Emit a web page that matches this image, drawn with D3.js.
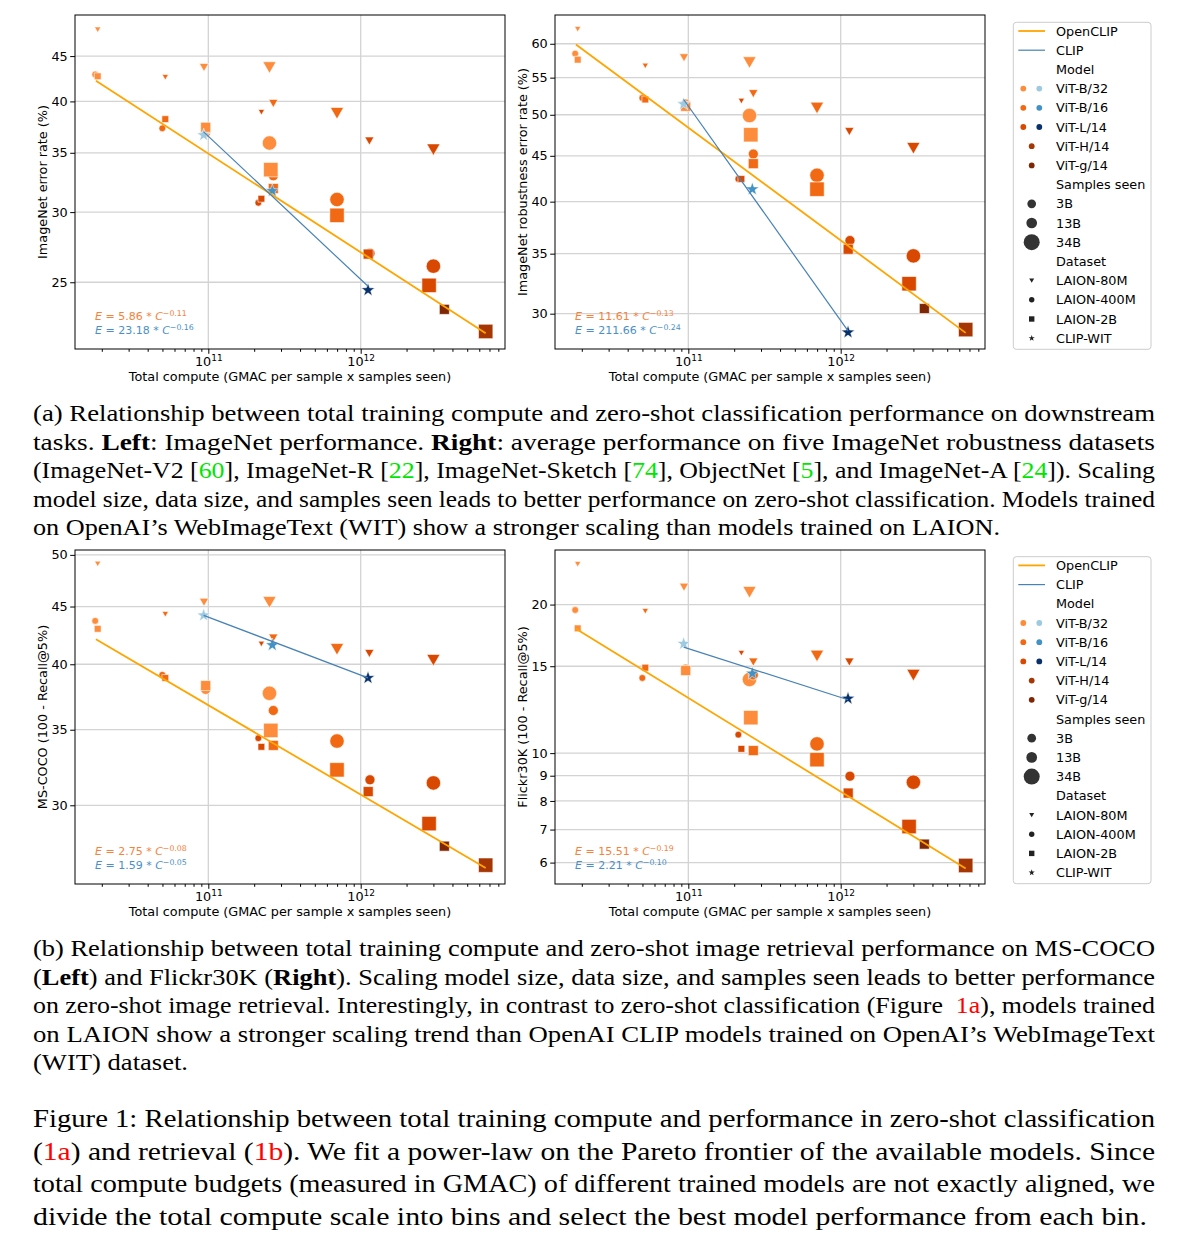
<!DOCTYPE html>
<html>
<head>
<meta charset="utf-8">
<script src="https://cdn.jsdelivr.net/npm/d3@7"></script>
<style>
body{margin:0;background:#fff}
svg text{font-family:"DejaVu Sans",sans-serif}
</style>
</head>
<body>
<svg id="fig" width="1191" height="1249"></svg>
<script>
//OpenCLIP runs (one entry per trained model)
const runModel = ["ViT-B/32","ViT-B/32","ViT-B/32","ViT-B/16","ViT-B/16","ViT-B/16","ViT-B/32","ViT-B/32","ViT-B/32",
  "ViT-L/14","ViT-L/14","ViT-L/14","ViT-B/32","ViT-B/32","ViT-B/32","ViT-B/16","ViT-B/16","ViT-B/16",
  "ViT-B/16","ViT-B/16","ViT-B/16","ViT-L/14","ViT-L/14","ViT-L/14","ViT-L/14","ViT-L/14","ViT-L/14","ViT-g/14","ViT-H/14"]
const runSamples = ["3B","3B","3B","3B","3B","3B","13B","13B","13B","3B","3B","3B","34B","34B","34B","13B","13B","13B",
  "34B","34B","34B","13B","13B","13B","34B","34B","34B","13B","34B"]
const runData = ["LAION-80M","LAION-400M","LAION-2B","LAION-80M","LAION-400M","LAION-2B","LAION-80M","LAION-400M","LAION-2B",
  "LAION-80M","LAION-400M","LAION-2B","LAION-80M","LAION-400M","LAION-2B","LAION-80M","LAION-400M","LAION-2B",
  "LAION-80M","LAION-400M","LAION-2B","LAION-80M","LAION-400M","LAION-2B","LAION-80M","LAION-400M","LAION-2B","LAION-2B","LAION-2B"]
const runCompute = [1.88e10,1.81e10,1.88e10, 5.22e10,4.99e10,5.22e10, 9.37e10,9.61e10,9.61e10,
  2.23e11,2.13e11,2.23e11, 2.52e11,2.52e11,2.57e11, 2.67e11,2.67e11,2.67e11,
  6.99e11,6.99e11,6.99e11, 1.14e12,1.15e12,1.12e12, 3.0e12,3.0e12,2.81e12, 3.54e12,6.61e12]
const imagenetErr = [48.2,42.9,42.7, 42.6,37.3,38.2, 43.7,36.9,37.4, 38.9,30.74,31.06, 43.7,35.9,33.5, 39.8,32.97,31.9,
  38.8,31.0,29.75, 36.1,26.95,26.9, 35.3,26.07,24.8, 23.3,22.0]
const robustErr = [62.3,58.5,57.6, 56.7,52.2,52.0, 57.9,51.4,51.1, 51.8,42.4,42.4, 57.2,49.9,47.5, 52.8,45.2,44.1,
  50.9,42.8,41.3, 47.9,36.2,35.4, 45.9,34.8,32.4, 30.4,28.8]
const cocoErr = [49.1,43.7,43.0, 44.3,39.15,38.9, 45.4,38.0,38.3, 41.7,34.4,33.8, 45.4,37.7,34.95, 42.2,36.4,33.9,
  41.25,34.2,32.25, 40.9,31.6,30.85, 40.35,31.4,28.9, 27.6,26.55]
const flickrErr = [24.15,19.5,17.9, 19.4,14.2,14.9, 21.7,14.8,14.7, 15.95,10.9,10.2, 21.2,14.1,11.8, 15.3,14.4,10.12,
  15.75,10.44,9.7, 15.3,8.98,8.3, 14.4,8.73,7.1, 6.54,5.92]

//OpenAI CLIP (WIT)
const clipModel = ["ViT-B/32","ViT-B/16","ViT-L/14"]
const clipCompute = [9.32e10,2.63e11,1.117e12]
const clipImagenet = [36.65,31.7,24.5]
const clipRobust = [51.4,41.3,28.6]
const clipCoco = [44.2,41.6,38.9]
const clipFlickr = [16.66,14.5,12.9]

//power-law fits, start / end of each line
const openFitX = [1.83e10,6.61e12]
const openFitImagenet = [42.2,21.9]
const openFitRobust = [59.9,28.56]
const openFitCoco = [42.1,26.4]
const openFitFlickr = [17.86,5.84]
const clipFitX = [9.32e10,1.117e12]
const clipFitImagenet = [36.96,24.74]
const clipFitRobust = [52.0,28.7]
const clipFitCoco = [44.2,38.9]
const clipFitFlickr = [16.4,12.83]
const eqOpen = [["5.86","−0.11"],["11.61","−0.13"],["2.75","−0.08"],["15.51","−0.19"]]
const eqClip = [["23.18","−0.16"],["211.66","−0.24"],["1.59","−0.05"],["2.21","−0.10"]]

//axes
const xDomain = [1.334e10,8.85e12]
const xMajor = [1e11,1e12]
const yTicksImagenet = [25,30,35,40,45]
const yTicksRobust = [30,35,40,45,50,55,60]
const yTicksCoco = [30,35,40,45,50]
const yTicksFlickr = [6,7,8,9,10,15,20]

//legend
const modelNames = ["ViT-B/32","ViT-B/16","ViT-L/14","ViT-H/14","ViT-g/14"]
const sampleNames = ["3B","13B","34B"]
const dataNames = ["LAION-80M","LAION-400M","LAION-2B","CLIP-WIT"]

const openColor = {"ViT-B/32":"#fd8d3c","ViT-B/16":"#f16913","ViT-L/14":"#d94801","ViT-H/14":"#a63603","ViT-g/14":"#7f2704"}
const clipColor = {"ViT-B/32":"#9ecae1","ViT-B/16":"#4292c6","ViT-L/14":"#08306b"}
const shapeOf = {"LAION-80M":"tri","LAION-400M":"circle","LAION-2B":"square","CLIP-WIT":"star"}
const widthOf = {"3B":6.8,"13B":10,"34B":14.4}
const ORANGE = "#ffa500", BLUE = "#4682b4"

const W = 430, H = 334
const svg = d3.select("#fig")
svg.append("rect").attr("width",1191).attr("height",1249).attr("fill","#fff")

function markerPath(shape,w){
  let r = w/2
  if(shape==="circle") return d3.symbol(d3.symbolCircle,Math.PI*r*r)()
  if(shape==="square") return `M${-r},${-r}H${r}V${r}H${-r}Z`
  if(shape==="tri") return `M${-r*0.92},${-r*0.78}H${r*0.92}L0,${r*0.82}Z`
  let pts=[]
  for(let i=0;i<10;i++){
    let a=-Math.PI/2+i*Math.PI/5
    let rr=i%2 ? r*0.4 : r
    pts.push([rr*Math.cos(a),rr*Math.sin(a)])
  }
  return "M"+pts.map(p=>p.join(",")).join("L")+"Z"
}

const panels = [
  {left:75,top:15,label:"ImageNet error rate (%)",vals:imagenetErr,clip:clipImagenet,fitO:openFitImagenet,fitC:clipFitImagenet,dom:[21.02,50.07],ticks:yTicksImagenet,eq:0},
  {left:555,top:15,label:"ImageNet robustness error rate (%)",vals:robustErr,clip:clipRobust,fitO:openFitRobust,fitC:clipFitRobust,dom:[27.4,64.6],ticks:yTicksRobust,eq:1},
  {left:75,top:550,label:"MS-COCO (100 - Recall@5%)",vals:cocoErr,clip:clipCoco,fitO:openFitCoco,fitC:clipFitCoco,dom:[25.55,50.5],ticks:yTicksCoco,eq:2},
  {left:555,top:550,label:"Flickr30K (100 - Recall@5%)",vals:flickrErr,clip:clipFlickr,fitO:openFitFlickr,fitC:clipFitFlickr,dom:[5.43,25.8],ticks:yTicksFlickr,eq:3}
]

let xMinor=[]
for(let d of [1e10,1e11,1e12]){
  for(let k=2;k<10;k++) if(k*d>xDomain[0] && k*d<xDomain[1]) xMinor.push(k*d)
}

function drawPanel(p){
  const x = d3.scaleLog().domain(xDomain).range([p.left,p.left+W])
  const y = d3.scaleLog().domain(p.dom).range([p.top+H,p.top])
  const g = svg.append("g")
  //grid
  g.append("g").selectAll("line").data(xMajor).join("line")
    .attr("x1",d=>x(d)).attr("x2",d=>x(d)).attr("y1",p.top).attr("y2",p.top+H)
    .attr("stroke","#d3d3d3").attr("stroke-width",1.3)
  g.append("g").selectAll("line").data(p.ticks).join("line")
    .attr("x1",p.left).attr("x2",p.left+W).attr("y1",d=>y(d)).attr("y2",d=>y(d))
    .attr("stroke","#d3d3d3").attr("stroke-width",1.3)

  //OpenCLIP points: 80M first, then 400M, then 2B on top
  let order = d3.range(runModel.length).sort((a,b)=>dataNames.indexOf(runData[a])-dataNames.indexOf(runData[b]) || a-b)
  g.append("g").selectAll("path").data(order).join("path")
    .attr("d",i=>markerPath(shapeOf[runData[i]],widthOf[runSamples[i]]))
    .attr("transform",i=>`translate(${x(runCompute[i])},${y(p.vals[i])})`)
    .attr("fill",i=>openColor[runModel[i]])
    .attr("stroke","#fff").attr("stroke-width",0.6)

  //CLIP stars
  g.append("g").selectAll("path").data(clipModel).join("path")
    .attr("d",markerPath("star",14))
    .attr("transform",(d,i)=>`translate(${x(clipCompute[i])},${y(p.clip[i])})`)
    .attr("fill",d=>clipColor[d])
    .attr("stroke","#fff").attr("stroke-width",0.5)

  //fits
  const line = d3.line().x(d=>x(d[0])).y(d=>y(d[1]))
  g.append("path").attr("d",line(d3.zip(openFitX,p.fitO)))
    .attr("fill","none").attr("stroke",ORANGE).attr("stroke-width",1.8)
  g.append("path").attr("d",line(d3.zip(clipFitX,p.fitC)))
    .attr("fill","none").attr("stroke",BLUE).attr("stroke-width",1.2)

  //equations
  const eqs = [[eqOpen[p.eq],"#f5823a",H-29],[eqClip[p.eq],"#4a8fc8",H-15]]
  eqs.forEach(([e,c,dy])=>{
    let t = g.append("text").attr("x",p.left+20).attr("y",p.top+dy).attr("fill",c).attr("font-size",11)
    t.append("tspan").attr("font-style","italic").text("E")
    t.append("tspan").text(` = ${e[0]} * `)
    t.append("tspan").attr("font-style","italic").text("C")
    t.append("tspan").attr("font-size",7.8).attr("dy",-4.5).text(e[1])
  })

  //axes
  g.append("g").attr("transform",`translate(0,${p.top+H})`)
    .call(d3.axisBottom(x).tickValues(xMinor).tickSize(2.8).tickFormat(""))
    .call(a=>a.select(".domain").remove())
  const xa = g.append("g").attr("transform",`translate(0,${p.top+H})`)
    .call(d3.axisBottom(x).tickValues(xMajor).tickSize(4.8).tickPadding(3).tickFormat(""))
    .attr("font-family","DejaVu Sans").attr("font-size",12.8)
  xa.select(".domain").remove()
  xa.selectAll(".tick text").attr("fill","#000").text("10")
    .append("tspan").attr("font-size",9).attr("dy",-5).text(d=>Math.round(Math.log10(d)))
  const ya = g.append("g").attr("transform",`translate(${p.left},0)`)
    .call(d3.axisLeft(y).tickValues(p.ticks).tickSize(4.8).tickPadding(2.5).tickFormat(d3.format("d")))
    .attr("font-family","DejaVu Sans").attr("font-size",12.8)
  ya.select(".domain").remove()
  ya.selectAll(".tick text").attr("fill","#000")

  g.append("rect").attr("x",p.left).attr("y",p.top).attr("width",W).attr("height",H)
    .attr("fill","none").attr("stroke","#000").attr("stroke-width",1)

  g.append("text").attr("x",p.left+W/2).attr("y",p.top+H+31.7).attr("text-anchor","middle")
    .attr("font-size",12.8).text("Total compute (GMAC per sample x samples seen)")
  g.append("text").attr("transform",`translate(${p.left-28.5},${p.top+H/2}) rotate(-90)`)
    .attr("text-anchor","middle").attr("font-size",12.8).text(p.label)
}

function drawLegend(top){
  const g = svg.append("g")
  g.append("rect").attr("x",1013.3).attr("y",top).attr("width",137.7).attr("height",327)
    .attr("rx",3).attr("fill","#fff").attr("stroke","#cccccc").attr("stroke-width",1)
  let rows = []
  rows.push({text:"OpenCLIP",line:ORANGE})
  rows.push({text:"CLIP",line:BLUE})
  rows.push({text:"Model"})
  modelNames.forEach(m=>rows.push({text:m,model:m}))
  rows.push({text:"Samples seen"})
  sampleNames.forEach(s=>rows.push({text:s,size:s}))
  rows.push({text:"Dataset"})
  dataNames.forEach(d=>rows.push({text:d,shape:shapeOf[d]}))
  const sizeW = {"3B":8.7,"13B":10.7,"34B":16}
  rows.forEach((r,i)=>{
    let cy = top+8.7+i*19.2
    g.append("text").attr("x",1056).attr("y",cy).attr("dy","0.36em").attr("font-size",12.8).text(r.text)
    if(r.line){
      g.append("line").attr("x1",1018.3).attr("x2",1045).attr("y1",cy).attr("y2",cy)
        .attr("stroke",r.line).attr("stroke-width",r.line===ORANGE?1.8:1.2)
    }
    if(r.model){
      if(clipColor[r.model]){
        g.append("circle").attr("cx",1023.3).attr("cy",cy).attr("r",2.9).attr("fill",openColor[r.model])
        g.append("circle").attr("cx",1039.3).attr("cy",cy).attr("r",2.9).attr("fill",clipColor[r.model])
      }else{
        g.append("circle").attr("cx",1031.7).attr("cy",cy).attr("r",2.9).attr("fill",openColor[r.model])
      }
    }
    if(r.size){
      g.append("circle").attr("cx",1031.7).attr("cy",cy).attr("r",sizeW[r.size]/2).attr("fill","#333")
    }
    if(r.shape){
      g.append("path").attr("d",markerPath(r.shape,r.shape==="star"?6.5:5.4))
        .attr("transform",`translate(1031.7,${cy})`).attr("fill","#222")
    }
  })
}

panels.forEach(drawPanel)
drawLegend(22.3)
drawLegend(556.7)

//captions
const capA = [
  [["(a) Relationship between total training compute and zero-shot classification performance on downstream"]],
  [["tasks. "],["Left","b"],[": ImageNet performance. "],["Right","b"],[": average performance on five ImageNet robustness datasets"]],
  [["(ImageNet-V2 ["],["60","g"],["], ImageNet-R ["],["22","g"],["], ImageNet-Sketch ["],["74","g"],["], ObjectNet ["],["5","g"],["], and ImageNet-A ["],["24","g"],["]). Scaling"]],
  [["model size, data size, and samples seen leads to better performance on zero-shot classification. Models trained"]],
  [["on OpenAI’s WebImageText (WIT) show a stronger scaling than models trained on LAION."]]
]
const capB = [
  [["(b) Relationship between total training compute and zero-shot image retrieval performance on MS-COCO"]],
  [["("],["Left","b"],[") and Flickr30K ("],["Right","b"],["). Scaling model size, data size, and samples seen leads to better performance"]],
  [["on zero-shot image retrieval. Interestingly, in contrast to zero-shot classification (Figure  "],["1a","r"],["), models trained"]],
  [["on LAION show a stronger scaling trend than OpenAI CLIP models trained on OpenAI’s WebImageText"]],
  [["(WIT) dataset."]]
]
const capFig = [
  [["Figure 1: Relationship between total training compute and performance in zero-shot classification"]],
  [["("],["1a","r"],[") and retrieval ("],["1b","r"],["). We fit a power-law on the Pareto frontier of the available models. Since"]],
  [["total compute budgets (measured in GMAC) of different trained models are not exactly aligned, we"]],
  [["divide the total compute scale into bins and select the best model performance from each bin."]]
]

function drawCaption(lines,ends,base,step,size){
  lines.forEach((segs,i)=>{
    const t = svg.append("text").attr("x",33).attr("y",base+i*step)
      .style("font-family","'Liberation Serif','DejaVu Serif',serif").style("white-space","pre")
      .attr("font-size",size).attr("fill","#000")
      .attr("textLength",ends[i]-33).attr("lengthAdjust","spacingAndGlyphs")
    segs.forEach(s=>{
      const ts = t.append("tspan").text(s[0])
      if(s[1]==="b") ts.attr("font-weight","bold")
      if(s[1]==="g") ts.attr("fill","#00e600")
      if(s[1]==="r") ts.attr("fill","#ff0000")
    })
  })
}
drawCaption(capA,[1155,1155,1155,1155,1000],421,28.6,22.5)
drawCaption(capB,[1155,1155,1155,1155,188],956,28.6,22.5)
drawCaption(capFig,[1155,1155,1155,1147],1127,32.5,25)
</script>
</body>
</html>
